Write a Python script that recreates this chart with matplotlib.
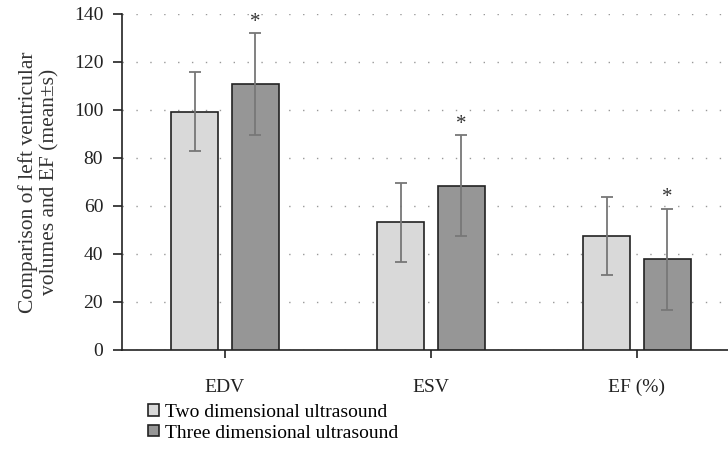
import matplotlib
matplotlib.use("Agg")
import matplotlib.pyplot as plt
import numpy as np

categories = ["EDV", "ESV", "EF (%)"]
two_d_mean = [99.3, 53.2, 47.5]
two_d_sd = [16.5, 16.5, 16.4]
three_d_mean = [110.8, 68.5, 37.8]
three_d_sd = [21.2, 21.2, 21.1]
series_names = ["Two dimensional ultrasound", "Three dimensional ultrasound"]
y_ticks = [0, 20, 40, 60, 80, 100, 120, 140]

plt.rcParams['font.family'] = ['Liberation Serif', 'DejaVu Serif']

fig = plt.figure(figsize=(7.28, 4.58), dpi=100)
ax = fig.add_axes([122/728, 108/458, 618/728, 336/458])

x = np.arange(len(categories))
w = 0.228
off = 0.146
err_kw = dict(ecolor="#777777", elinewidth=1.3, capsize=4.5, capthick=1.3)
b1 = ax.bar(x - off, two_d_mean, w, yerr=two_d_sd, color="#d9d9d9",
            edgecolor="#222222", linewidth=1.2, error_kw=err_kw, zorder=3,
            label=series_names[0])
b2 = ax.bar(x + off, three_d_mean, w, yerr=three_d_sd, color="#969696",
            edgecolor="#222222", linewidth=1.2, error_kw=err_kw, zorder=3,
            label=series_names[1])

for xi, m, s in zip(x + off, three_d_mean, three_d_sd):
    ax.text(xi, m + s + 0.5, "*", ha="center", va="bottom", fontsize=15,
            color="#333333", zorder=4)

ax.set_xlim(-0.5, 2.5)
ax.set_ylim(0, 140)
ax.set_yticks(y_ticks)
ax.set_xticks(x)
ax.set_xticklabels(categories)
ax.yaxis.grid(True, linestyle=(0, (1, 9)), linewidth=1.0, color="#999999", zorder=0)
ax.set_axisbelow(True)
for sp in ["top", "right"]:
    ax.spines[sp].set_visible(False)
for sp in ["left", "bottom"]:
    ax.spines[sp].set_linewidth(1.2)
    ax.spines[sp].set_color("#222222")
ax.tick_params(axis="y", direction="out", length=6.5, width=1.2, labelsize=14, pad=7, colors="#222222")
ax.tick_params(axis="x", direction="out", length=6, width=1.2, labelsize=14, pad=15, colors="#222222")
for lab in ax.get_xticklabels() + ax.get_yticklabels():
    lab.set_color("#222222")
ax.set_ylabel("Comparison of left ventricular\nvolumes and EF (mean±s)", fontsize=15.5,
              color="#333333", labelpad=10, linespacing=1.2)

fig.legend(handles=[b1, b2], labels=series_names, loc="upper left",
           bbox_to_anchor=(148/728, 1 - 404/458), frameon=False, fontsize=14,
           handlelength=0.55, handleheight=0.55, handletextpad=0.3,
           labelspacing=0.18, borderpad=0, borderaxespad=0)

fig.savefig("out.png", dpi=100)
